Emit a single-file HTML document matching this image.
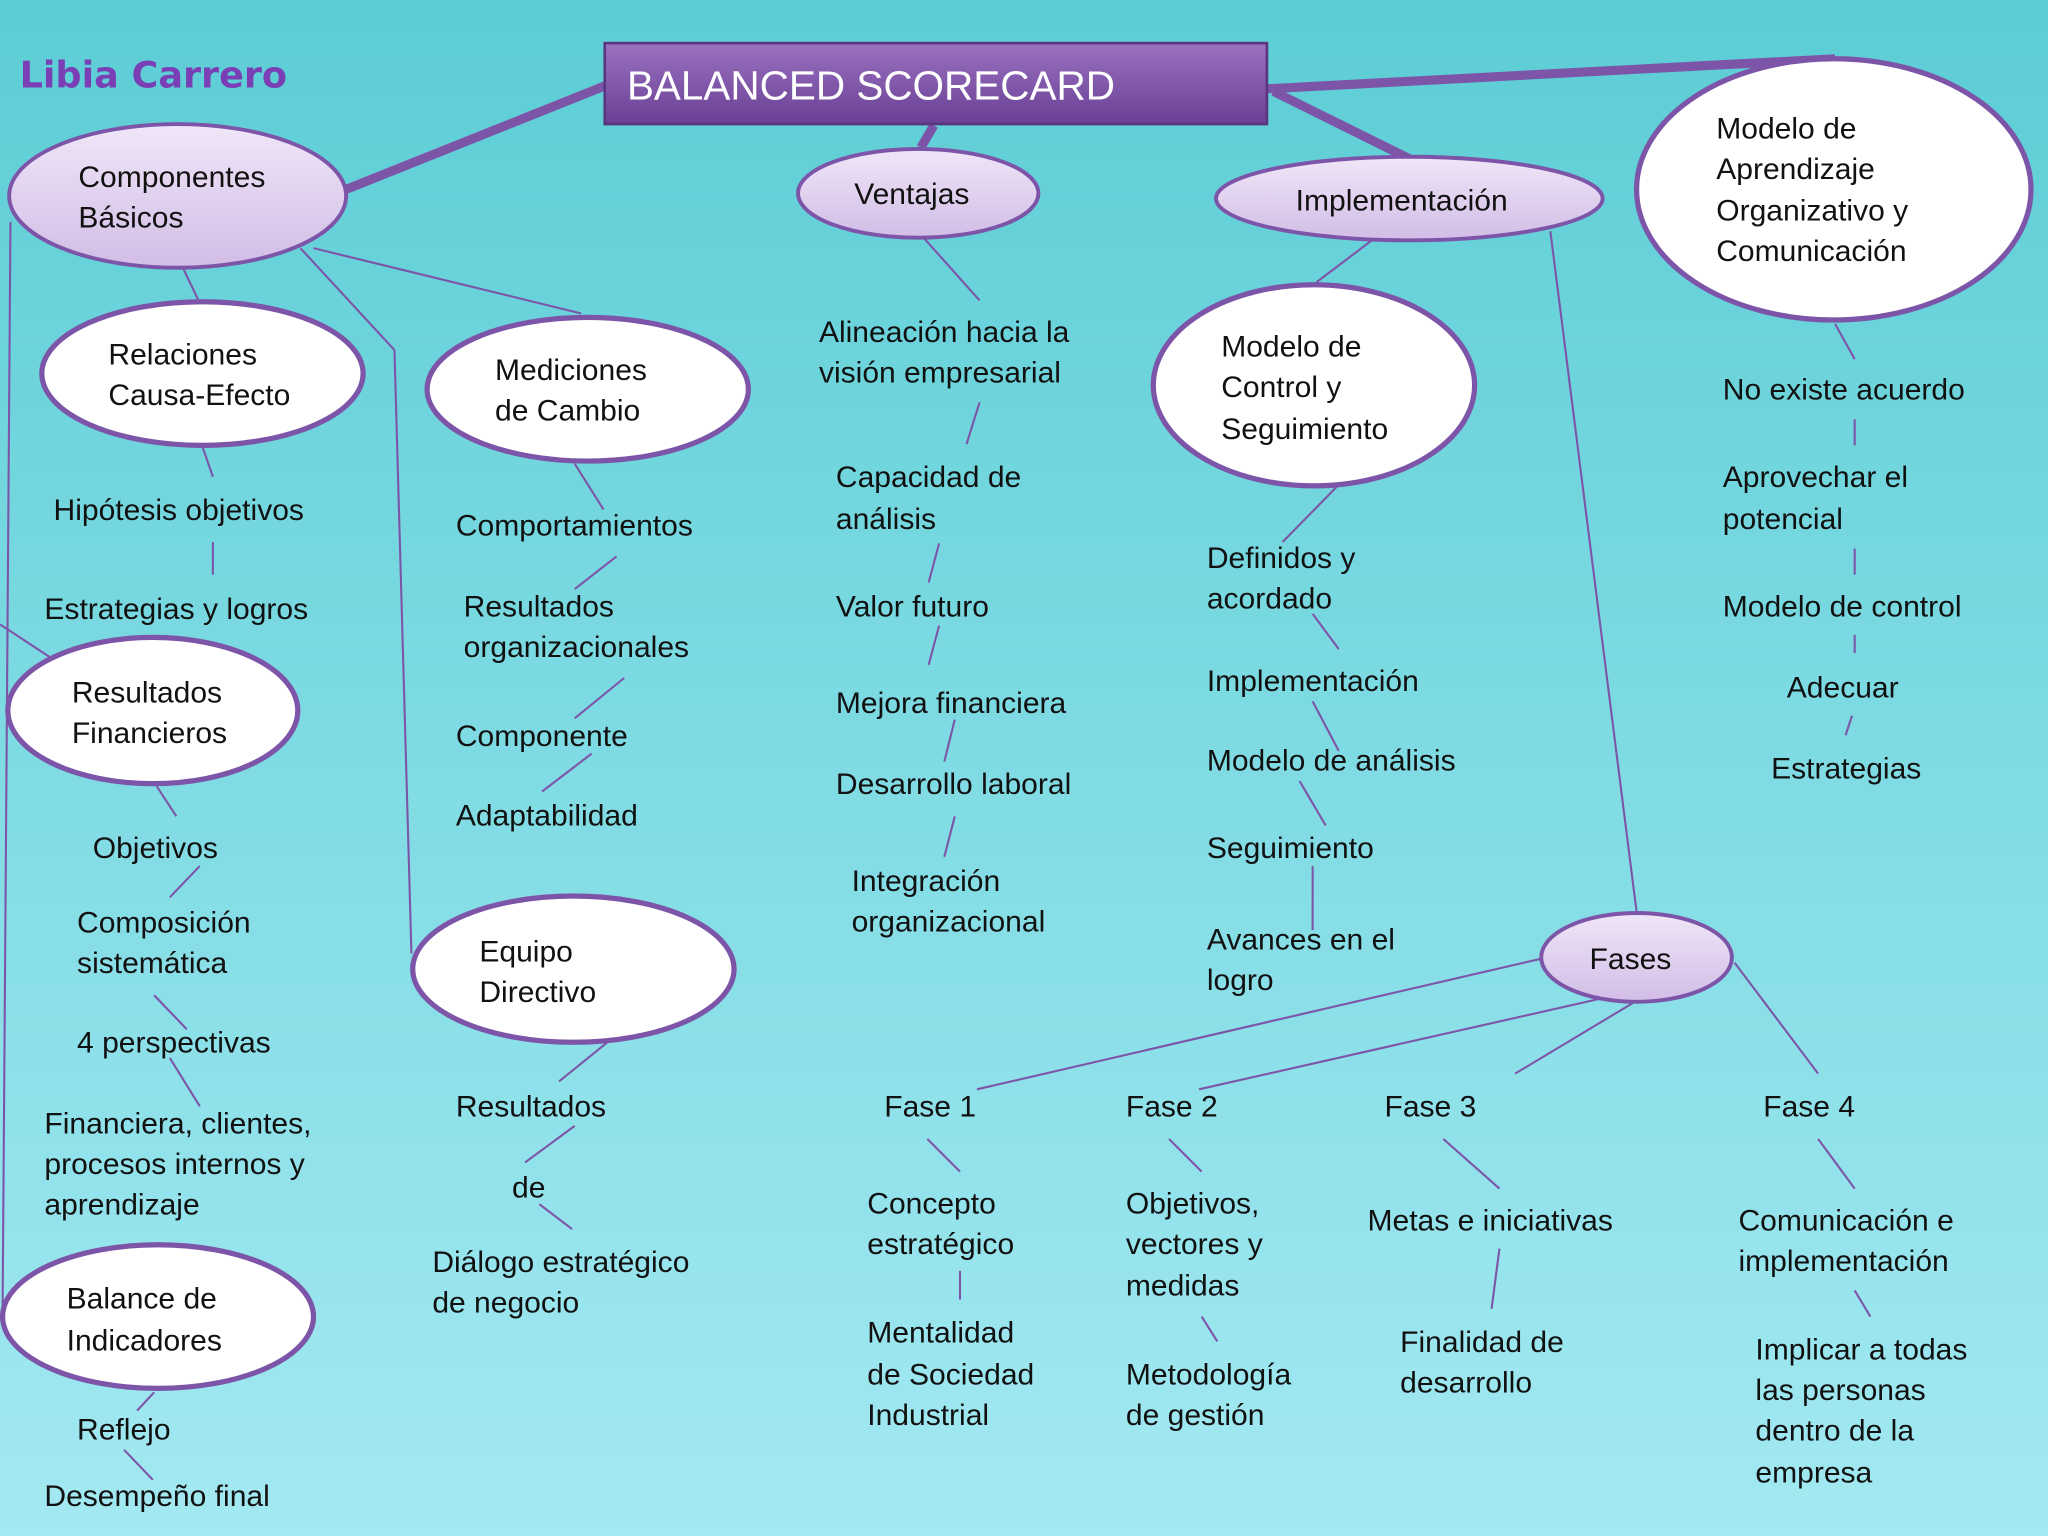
<!DOCTYPE html>
<html><head><meta charset="utf-8"><style>
html,body{margin:0;padding:0;width:2048px;height:1536px;overflow:hidden}
svg{display:block}
text{font-family:"Liberation Sans",sans-serif;font-size:23px;fill:#111}
</style></head><body>
<svg width="2048" height="1536" viewBox="0 0 1568 1176" xmlns="http://www.w3.org/2000/svg">
<defs>
<linearGradient id="bg" x1="0" y1="0" x2="0" y2="1"><stop offset="0" stop-color="#5ccdd5"/><stop offset="1" stop-color="#a3e9f2"/></linearGradient>
<linearGradient id="lav" x1="0" y1="0" x2="0" y2="1"><stop offset="0" stop-color="#f0e6f8"/><stop offset="1" stop-color="#d2bde6"/></linearGradient>
<linearGradient id="tit" x1="0" y1="0" x2="0" y2="1"><stop offset="0" stop-color="#9a72c0"/><stop offset="1" stop-color="#6a3f95"/></linearGradient>
</defs>
<rect width="1568" height="1176" fill="url(#bg)"/>
<g stroke="#7d55a8" stroke-width="7" fill="none">
<line x1="265" y1="145" x2="465" y2="65"/>
<line x1="970" y1="68" x2="1405" y2="45"/>
<line x1="975" y1="70" x2="1080" y2="122"/>
<line x1="715" y1="96" x2="705" y2="113"/>
</g>
<g stroke="#7d55a8" stroke-width="1.6" fill="none">
<line x1="8" y1="170" x2="2" y2="1000"/>
<line x1="0" y1="478" x2="38" y2="503"/>
<line x1="230" y1="190" x2="302" y2="268"/><line x1="302" y1="268" x2="315" y2="730"/>
<line x1="240" y1="190" x2="445" y2="240"/>
<line x1="140" y1="205" x2="152" y2="230"/>
<line x1="155" y1="342" x2="163" y2="365"/><line x1="163" y1="415" x2="163" y2="440"/>
<line x1="120" y1="602" x2="135" y2="625"/><line x1="153" y1="663" x2="130" y2="687"/>
<line x1="118" y1="762" x2="143" y2="788"/><line x1="130" y1="810" x2="153" y2="847"/>
<line x1="118" y1="1066" x2="105" y2="1080"/><line x1="95" y1="1110" x2="117" y2="1133"/>
<line x1="440" y1="355" x2="462" y2="390"/><line x1="472" y1="426" x2="440" y2="451"/>
<line x1="478" y1="519" x2="440" y2="550"/><line x1="453" y1="577" x2="415" y2="606"/>
<line x1="465" y1="798" x2="428" y2="828"/><line x1="440" y1="862" x2="402" y2="890"/><line x1="413" y1="922" x2="438" y2="941"/>
<line x1="708" y1="183" x2="750" y2="230"/><line x1="750" y1="308" x2="740" y2="340"/>
<line x1="719" y1="416" x2="711" y2="446"/><line x1="719" y1="479" x2="711" y2="509"/>
<line x1="731" y1="551" x2="723" y2="583"/><line x1="731" y1="625" x2="723" y2="656"/>
<line x1="1053" y1="182" x2="1008" y2="216"/>
<line x1="1030" y1="366" x2="982" y2="415"/><line x1="1005" y1="470" x2="1025" y2="497"/>
<line x1="1005" y1="537" x2="1025" y2="575"/><line x1="995" y1="598" x2="1015" y2="632"/>
<line x1="1005" y1="663" x2="1005" y2="712"/>
<line x1="1187" y1="177" x2="1253" y2="698"/>
<line x1="1405" y1="248" x2="1420" y2="275"/><line x1="1420" y1="321" x2="1420" y2="341"/>
<line x1="1420" y1="420" x2="1420" y2="440"/><line x1="1420" y1="486" x2="1420" y2="500"/>
<line x1="1418" y1="548" x2="1413" y2="563"/>
<line x1="1180" y1="734" x2="748" y2="834"/>
<line x1="1228" y1="764" x2="918" y2="834"/>
<line x1="1250" y1="768" x2="1160" y2="822"/>
<line x1="1328" y1="737" x2="1392" y2="822"/>
<line x1="710" y1="872" x2="735" y2="897"/><line x1="735" y1="973" x2="735" y2="995"/>
<line x1="895" y1="872" x2="920" y2="897"/><line x1="920" y1="1008" x2="932" y2="1027"/>
<line x1="1105" y1="872" x2="1148" y2="910"/><line x1="1148" y1="956" x2="1142" y2="1002"/>
<line x1="1392" y1="872" x2="1420" y2="910"/><line x1="1420" y1="988" x2="1432" y2="1008"/>
</g>
<rect x="463" y="33" width="507" height="62" fill="url(#tit)" stroke="#5a3580" stroke-width="2"/>
<text x="480" y="76" style="font-size:31px;fill:#fff">BALANCED SCORECARD</text>
<text x="15" y="67" style="font-family:'DejaVu Sans',sans-serif;font-size:28px;fill:#7a3fb5;font-weight:bold">Libia Carrero</text>
<g stroke="#7d55a8" stroke-width="3" fill="url(#lav)">
<ellipse cx="136" cy="150" rx="129" ry="55"/>
<ellipse cx="703" cy="148" rx="92" ry="34"/>
<ellipse cx="1079" cy="152" rx="148" ry="32"/>
<ellipse cx="1253" cy="733" rx="73" ry="34"/>
</g>
<g stroke="#7d55a8" stroke-width="4" fill="#fff">
<ellipse cx="1404" cy="145" rx="151" ry="100"/>
<ellipse cx="155" cy="286" rx="123" ry="55"/>
<ellipse cx="450" cy="298" rx="123" ry="55"/>
<ellipse cx="1006" cy="295" rx="123" ry="77"/>
<ellipse cx="117" cy="544" rx="111" ry="56"/>
<ellipse cx="439" cy="742" rx="123" ry="56"/>
<ellipse cx="121" cy="1008" rx="119" ry="55"/>
</g>
<text x="60" y="143">Componentes</text><text x="60" y="174">Básicos</text>
<text x="654" y="156">Ventajas</text>
<text x="992" y="161">Implementación</text>
<text x="1314" y="106">Modelo de</text><text x="1314" y="137">Aprendizaje</text><text x="1314" y="169">Organizativo y</text><text x="1314" y="200">Comunicación</text>
<text x="1217" y="742">Fases</text>
<text x="83" y="279">Relaciones</text><text x="83" y="310">Causa-Efecto</text>
<text x="379" y="291">Mediciones</text><text x="379" y="322">de Cambio</text>
<text x="935" y="273">Modelo de</text><text x="935" y="304">Control y</text><text x="935" y="336">Seguimiento</text>
<text x="55" y="538">Resultados</text><text x="55" y="569">Financieros</text>
<text x="367" y="736">Equipo</text><text x="367" y="767">Directivo</text>
<text x="51" y="1002">Balance de</text><text x="51" y="1034">Indicadores</text>
<text x="41" y="398">Hipótesis objetivos</text>
<text x="34" y="474">Estrategias y logros</text>
<text x="71" y="657">Objetivos</text>
<text x="59" y="714">Composición</text><text x="59" y="745">sistemática</text>
<text x="59" y="806">4 perspectivas</text>
<text x="34" y="868">Financiera, clientes,</text><text x="34" y="899">procesos internos y</text><text x="34" y="930">aprendizaje</text>
<text x="59" y="1102">Reflejo</text>
<text x="34" y="1153">Desempeño final</text>
<text x="349" y="410">Comportamientos</text>
<text x="355" y="472">Resultados</text><text x="355" y="503">organizacionales</text>
<text x="349" y="571">Componente</text>
<text x="349" y="632">Adaptabilidad</text>
<text x="349" y="855">Resultados</text>
<text x="392" y="917">de</text>
<text x="331" y="974">Diálogo estratégico</text><text x="331" y="1005">de negocio</text>
<text x="627" y="262">Alineación hacia la</text><text x="627" y="293">visión empresarial</text>
<text x="640" y="373">Capacidad de</text><text x="640" y="405">análisis</text>
<text x="640" y="472">Valor futuro</text>
<text x="640" y="546">Mejora financiera</text>
<text x="640" y="608">Desarrollo laboral</text>
<text x="652" y="682">Integración</text><text x="652" y="713">organizacional</text>
<text x="924" y="435">Definidos y</text><text x="924" y="466">acordado</text>
<text x="924" y="529">Implementación</text>
<text x="924" y="590">Modelo de análisis</text>
<text x="924" y="657">Seguimiento</text>
<text x="924" y="727">Avances en el</text><text x="924" y="758">logro</text>
<text x="1319" y="306">No existe acuerdo</text>
<text x="1319" y="373">Aprovechar el</text><text x="1319" y="405">potencial</text>
<text x="1319" y="472">Modelo de control</text>
<text x="1368" y="534">Adecuar</text>
<text x="1356" y="596">Estrategias</text>
<text x="677" y="855">Fase 1</text>
<text x="862" y="855">Fase 2</text>
<text x="1060" y="855">Fase 3</text>
<text x="1350" y="855">Fase 4</text>
<text x="664" y="929">Concepto</text><text x="664" y="960">estratégico</text>
<text x="664" y="1028">Mentalidad</text><text x="664" y="1060">de Sociedad</text><text x="664" y="1091">Industrial</text>
<text x="862" y="929">Objetivos,</text><text x="862" y="960">vectores y</text><text x="862" y="992">medidas</text>
<text x="862" y="1060">Metodología</text><text x="862" y="1091">de gestión</text>
<text x="1047" y="942">Metas e iniciativas</text>
<text x="1072" y="1035">Finalidad de</text><text x="1072" y="1066">desarrollo</text>
<text x="1331" y="942">Comunicación  e</text><text x="1331" y="973">implementación</text>
<text x="1344" y="1041">Implicar a todas</text><text x="1344" y="1072">las personas</text><text x="1344" y="1103">dentro de la</text><text x="1344" y="1135">empresa</text>
</svg>
</body></html>
